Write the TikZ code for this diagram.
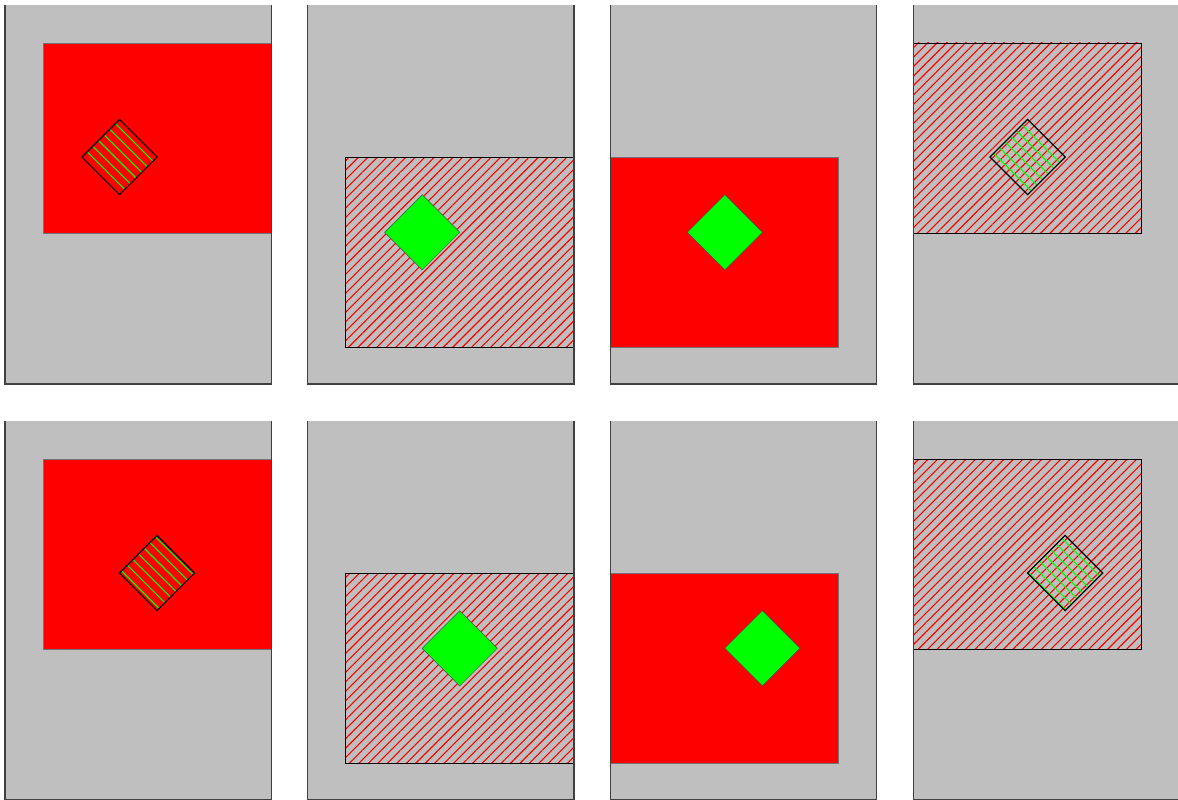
\documentclass[tikz,border=0pt]{standalone}
\usepackage{tikz}
\usetikzlibrary{patterns.meta}
\definecolor{panelgray}{HTML}{BFBFBF}
\definecolor{edgegray}{HTML}{404040}
\definecolor{fullred}{HTML}{FF0000}
\definecolor{fullgreen}{HTML}{00FF00}

\begin{document}
\begin{tikzpicture}[x=1pt,y=-1pt,
  panel/.style={fill=panelgray},
  panel edge/.style={draw=edgegray,line width=1.2pt},
  solid rect/.style={fill=fullred,draw=black!55,line width=0.4pt},
  hatch rect/.style={pattern={Lines[angle=45,distance=6.7pt,line width=1.1pt]},
    pattern color=fullred,draw=black,line width=0.9pt},
  solid patch/.style={fill=fullgreen,draw=black!70,line width=0.5pt},
  hatch patch/.style={pattern={Lines[angle=-45,distance=8pt,line width=1.1pt]},
    pattern color=fullgreen,draw=black,line width=1.2pt}]
\useasboundingbox (0,0) rectangle (1178,800);
\foreach \col/\rx/\ry/\dy/\rkind/\dkind in {0/38/38/152/solid/hatch,
  1/38/152/227.3/hatch/solid,2/0/152/227.3/solid/solid,3/0/38/152/hatch/hatch}
\foreach \row in {0,1} {
\begin{scope}[shift={({5+302.7*\col},{5+416*\row})}]
  \fill[panel] (0,0) rectangle (266.3,379);
  \begin{scope}
    \clip (0,0) rectangle (266.3,379);
    \path[\rkind\space rect] (\rx,\ry) rectangle ++(228,190);
  \end{scope}
  \path[\dkind\space patch] ({114.5+37.5*\row},{\dy-37.6}) -- ++(37.6,37.6)
    -- ++(-37.6,37.6) -- ++(-37.6,-37.6) -- cycle;
  \draw[panel edge] (0,0) -- (0,379) -- (266.3,379) -- (266.3,0);
\end{scope}
}
\end{tikzpicture}
\end{document}
